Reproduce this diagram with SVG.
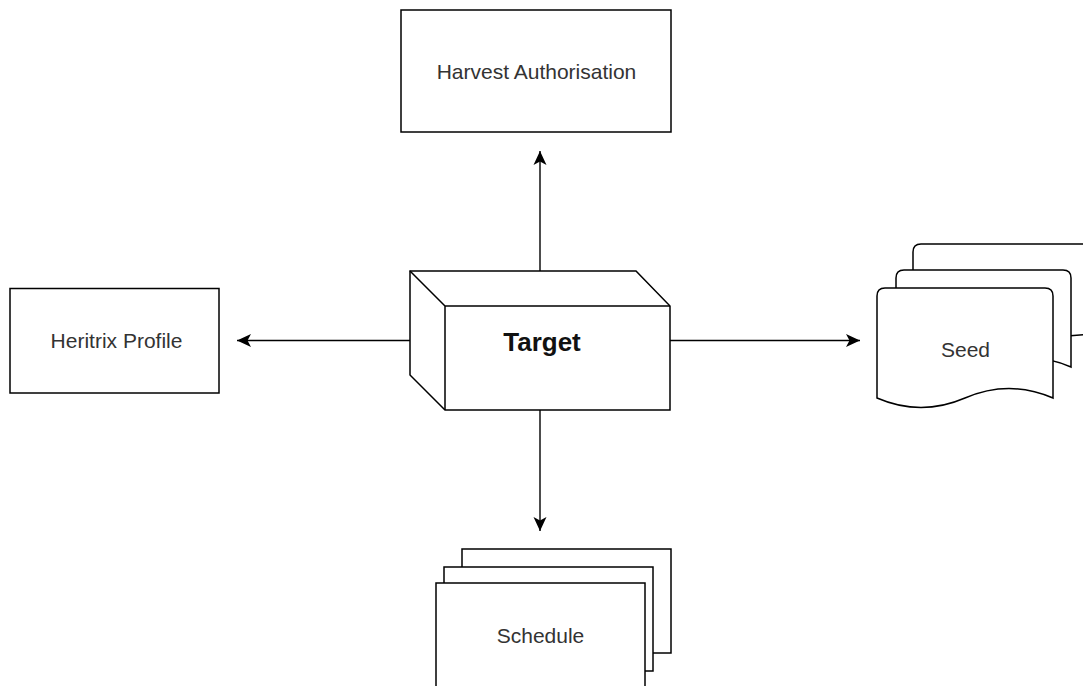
<svg xmlns="http://www.w3.org/2000/svg" width="1083" height="686" viewBox="0 0 1083 686">
<style>
.shape{fill:#ffffff;stroke:#000000;stroke-width:1.5;stroke-linejoin:miter}
.edge{fill:none;stroke:#000000;stroke-width:1.4}
.lbl{font-family:"Liberation Sans",Arial,sans-serif;font-size:21px;fill:#333333;text-anchor:middle}
.bold{font-family:"Liberation Sans",Arial,sans-serif;font-size:26px;font-weight:bold;fill:#111111;text-anchor:middle}
</style>
<defs>
<marker id="arr" markerUnits="userSpaceOnUse" markerWidth="14" markerHeight="13" refX="14" refY="6.5" orient="auto" overflow="visible">
<path d="M0,0 L14,6.5 L0,13 L3.5,6.5 Z" fill="#000000"/>
</marker>
</defs>
<rect width="1083" height="686" fill="#ffffff"/>
<g id="connectors">
<line class="edge" x1="540" y1="271" x2="540" y2="151" marker-end="url(#arr)"/>
<line class="edge" x1="410" y1="340.5" x2="237" y2="340.5" marker-end="url(#arr)"/>
<line class="edge" x1="670" y1="340.5" x2="860" y2="340.5" marker-end="url(#arr)"/>
<line class="edge" x1="540" y1="410" x2="540" y2="531" marker-end="url(#arr)"/>
</g>
<g id="harvest-authorisation">
<rect class="shape" x="401" y="10" width="270" height="122"/>
<text class="lbl" x="536.5" y="79">Harvest Authorisation</text>
</g>
<g id="heritrix-profile">
<rect class="shape" x="10" y="288.5" width="209" height="104.5"/>
<text class="lbl" x="116.5" y="348">Heritrix Profile</text>
</g>
<g id="target">
<path class="shape" d="M410,271 L636,271 L670,306 L670,410 L445,410 L410,375 Z"/>
<path class="edge" style="stroke-width:1.5" d="M410,271 L445,306 L670,306 M445,306 L445,410"/>
<text class="bold" x="542" y="351">Target</text>
</g>
<g id="seed">
<path class="shape" d="M913,344 L913,252 Q913,244 921,244 L1145,244 Q1153,244 1153,252 L1153,344 Q1093,325 1033,344 Q973,363 913,344 Z"/>
<path class="shape" d="M896,367 L896,278 Q896,270 904,270 L1063,270 Q1071,270 1071,278 L1071,367 Q1027,348 983.5,367 Q940,386 896,367 Z"/>
<path class="shape" d="M877,398 L877,296 Q877,288 885,288 L1045,288 Q1053,288 1053,296 L1053,398 Q1009,379 965,398 Q921,417 877,398 Z"/>
<text class="lbl" x="965.5" y="357">Seed</text>
</g>
<g id="schedule">
<rect class="shape" x="462" y="549" width="209" height="104"/>
<rect class="shape" x="444" y="567" width="209" height="104"/>
<rect class="shape" x="436" y="583" width="209" height="115"/>
<text class="lbl" x="540.5" y="643">Schedule</text>
</g>
</svg>
